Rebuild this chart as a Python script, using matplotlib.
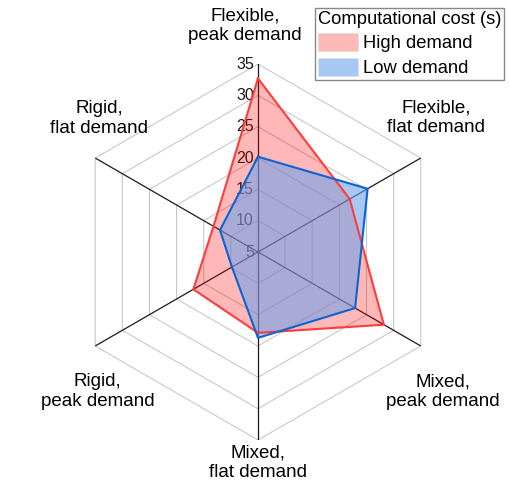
import numpy as np
import matplotlib.pyplot as plt
import matplotlib.transforms as mtransforms
from matplotlib.patches import Patch

plt.rcParams['font.family'] = ['Liberation Sans', 'DejaVu Sans']

categories = ['Flexible,\npeak demand', 'Flexible,\nflat demand', 'Mixed,\npeak demand',
              'Mixed,\nflat demand', 'Rigid,\npeak demand', 'Rigid,\nflat demand']
high_demand = [32.7, 21.9, 28.2, 17.9, 16.9, 13.2]
low_demand = [20.2, 25.2, 22.9, 18.7, 9.8, 12.0]
r_ticks = [5, 10, 15, 20, 25, 30, 35]

# label placement (angle in deg clockwise from top, radius in data units)
label_theta = [-3.3, 53, 127, 180, 229, 310]
label_r = [41.1, 40.6, 42.0, 38.6, 38.9, 38.1]

red_line = '#ff3b3b'
red_fill = (1.0, 0.0, 0.0, 0.28)
blue_line = '#0a64d2'
blue_fill = (108/255, 160/255, 237/255, 0.58)

n = len(categories)
angles = np.linspace(0, 2 * np.pi, n, endpoint=False)
closed = np.append(angles, angles[0])

fig = plt.figure(figsize=(5.09, 4.92), dpi=100)
ax = fig.add_axes([0.1375, 0.1057, 0.7387, 0.7642], polar=True)
ax.set_theta_zero_location('N')
ax.set_theta_direction(-1)
ax.set_ylim(5, 35)
ax.grid(False)
ax.spines['polar'].set_visible(False)
ax.set_xticks([])
ax.set_yticks([])
ax.patch.set_alpha(0)

# hexagon grid
for r in r_ticks[1:]:
    ax.plot(closed, [r] * (n + 1), color='#c8c8c8', lw=0.8, zorder=0.5)
for a in angles:
    ax.plot([a, a], [5, 35], color='#1a1a1a', lw=0.9, zorder=0.6)

# radial tick labels, under the fills
off = mtransforms.offset_copy(ax.transData, fig=fig, x=-3, y=0, units='points')
for r in r_ticks:
    ax.text(0, r, str(r), transform=off, ha='right', va='center',
            fontsize=11.5, color='#1a1a1a', zorder=0.7)

h = np.append(high_demand, high_demand[0])
l = np.append(low_demand, low_demand[0])
ax.fill(closed, h, color=red_fill, lw=0, zorder=2)
ax.fill(closed, l, color=blue_fill, lw=0, zorder=2.1)
ax.plot(closed, h, color=red_line, lw=1.5, zorder=3)
ax.plot(closed, l, color=blue_line, lw=1.5, zorder=3.1)

for lab, th, r in zip(categories, label_theta, label_r):
    ax.text(np.deg2rad(th), r, lab, ha='center', va='center', fontsize=13.5,
            clip_on=False, linespacing=1.2)

handles = [Patch(facecolor=red_fill, edgecolor='#dddddd', lw=0.5, label='High demand'),
           Patch(facecolor=blue_fill, edgecolor='#dddddd', lw=0.5, label='Low demand')]
leg = fig.legend(handles=handles, title='Computational cost (s)', loc='upper right',
                 bbox_to_anchor=(0.990, 0.984), fontsize=13.2, title_fontsize=13.2,
                 frameon=True, fancybox=False, edgecolor='#888888', framealpha=1,
                 handlelength=2.2, handleheight=1.15, handletextpad=0.3,
                 borderpad=0.15, labelspacing=0.3, borderaxespad=0)
leg._legend_box.align = 'left'
leg.get_frame().set_linewidth(1.0)

fig.savefig('out.png', dpi=100)
